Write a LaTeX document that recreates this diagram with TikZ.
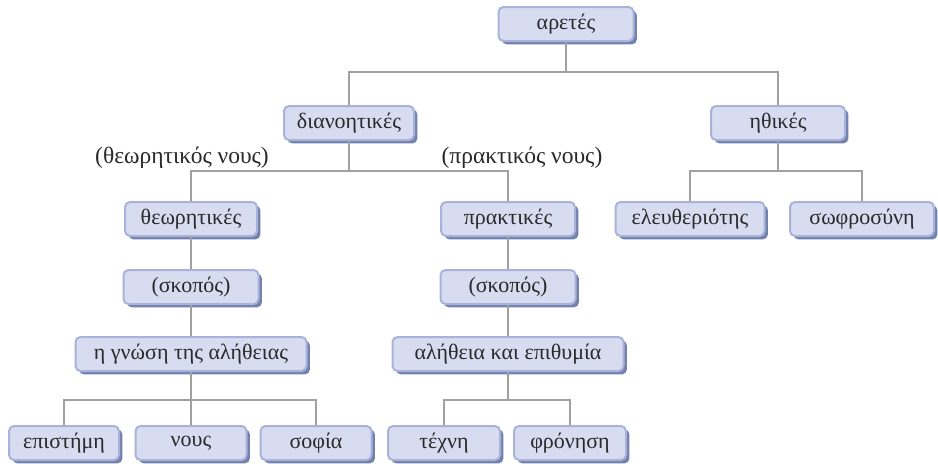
\documentclass[tikz,border=0pt]{standalone}
\usepackage{fontspec}
\setmainfont{Liberation Serif}
\usetikzlibrary{shadows}
\definecolor{boxfill}{HTML}{D7DCF1}
\definecolor{boxline}{HTML}{A9B3DA}
\definecolor{boxshadow}{HTML}{7381AE}
\definecolor{conncol}{HTML}{A0A0A0}
\definecolor{txt}{HTML}{2A2A2A}
\tikzset{
  bx/.style={draw=boxline, line width=2pt, fill=boxfill, rounded corners=5pt,
    minimum height=34pt, inner sep=0pt, text=txt,
    font=\fontsize{22}{26}\selectfont,
    drop shadow={shadow xshift=3.4pt, shadow yshift=-3.4pt, fill=boxshadow, opacity=1}},
  lbl/.style={text=txt, font=\fontsize{23.5}{27}\selectfont, inner sep=0pt},
  conn/.style={draw=conncol, line width=2.4pt}
}
\begin{document}
\begin{tikzpicture}[x=1pt,y=-1pt]
\useasboundingbox[fill=white] (0,0) rectangle (938,466);
% row 1
\node[bx, minimum width=135pt] (aretes) at (566,24) {αρετές};
% row 2
\node[bx, minimum width=130pt] (dian) at (349,123) {διανοητικές};
\node[bx, minimum width=134pt] (ithikes) at (778,123) {ηθικές};
% labels
\node[lbl] (lth) at (182,158) {(θεωρητικός νους)};
\node[lbl] (lpr) at (522,158) {(πρακτικός νους)};
% row 3
\node[bx, minimum width=132pt] (theor) at (191,219) {θεωρητικές};
\node[bx, minimum width=134pt] (prakt) at (508,219) {πρακτικές};
\node[bx, minimum width=149pt] (eleu) at (690,219) {ελευθεριότης};
\node[bx, minimum width=144pt] (sofr) at (862,219) {σωφροσύνη};
% row 4
\node[bx, minimum width=135pt] (skopL) at (191,287) {(σκοπός)};
\node[bx, minimum width=135pt] (skopR) at (508,287) {(σκοπός)};
% row 5
\node[bx, minimum width=231pt] (gnosi) at (191,354) {η γνώση της αλήθειας};
\node[bx, minimum width=231pt] (alith) at (508,354) {αλήθεια και επιθυμία};
% row 6
\node[bx, minimum width=110pt] (epist) at (64,443) {επιστήμη};
\node[bx, minimum width=111pt] (nous) at (191,443) {νους};
\node[bx, minimum width=111pt] (sofia) at (316,443) {σοφία};
\node[bx, minimum width=112pt] (techni) at (444,443) {τέχνη};
\node[bx, minimum width=112pt] (fron) at (570,443) {φρόνηση};
% bars
\coordinate (b1) at (0,72);
\coordinate (b2) at (0,171);
\coordinate (b3) at (0,400);
% connectors
\draw[conn] (aretes.south) -- (aretes.south |- b1) -| (dian.north);
\draw[conn] (aretes.south |- b1) -| (ithikes.north);
\draw[conn] (dian.south) -- (dian.south |- b2) -| (theor.north);
\draw[conn] (dian.south |- b2) -| (prakt.north);
\draw[conn] (ithikes.south) -- (ithikes.south |- b2) -| (eleu.north);
\draw[conn] (ithikes.south |- b2) -| (sofr.north);
\draw[conn] (theor.south) -- (skopL.north);
\draw[conn] (skopL.south) -- (gnosi.north);
\draw[conn] (prakt.south) -- (skopR.north);
\draw[conn] (skopR.south) -- (alith.north);
\draw[conn] (gnosi.south) -- (gnosi.south |- b3) -| (epist.north);
\draw[conn] (gnosi.south |- b3) -- (nous.north);
\draw[conn] (gnosi.south |- b3) -| (sofia.north);
\draw[conn] (alith.south) -- (alith.south |- b3) -| (techni.north);
\draw[conn] (alith.south |- b3) -| (fron.north);
\end{tikzpicture}
\end{document}
